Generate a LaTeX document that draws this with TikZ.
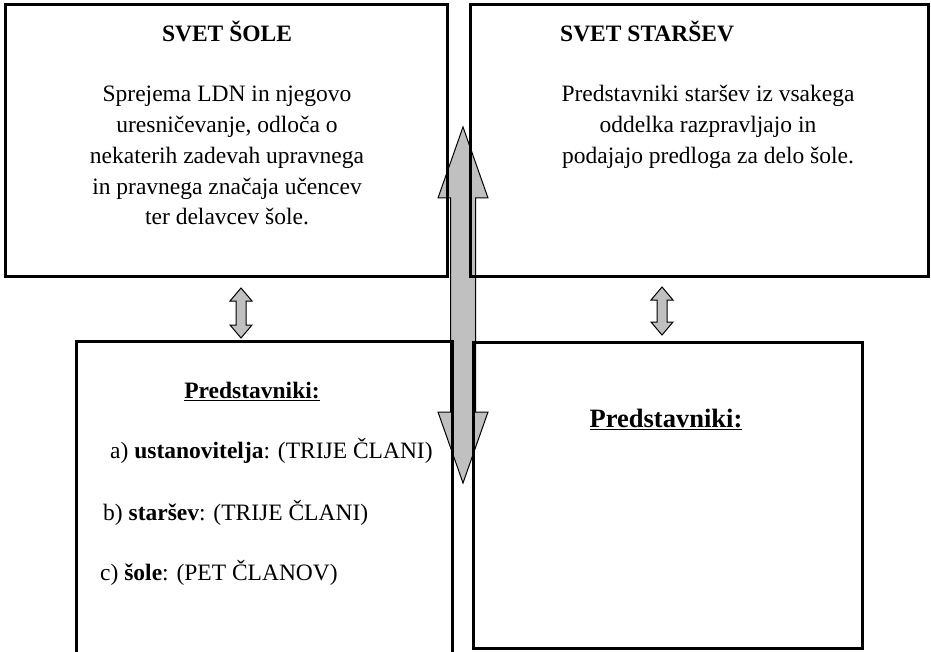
\documentclass[tikz,border=0pt]{standalone}
\usepackage{fontspec}
\setmainfont{Liberation Serif}
\usepackage{tikz}

\definecolor{siva}{RGB}{192,192,192}
% dvosmerna puscica: x, vrh, dno, pol glave, pol debla, dolzina glave
\newcommand{\dvosmerna}[6]{%
  \draw[puscica] (#1,#2) -- (#1+#4,#2+#6) -- (#1+#5,#2+#6) -- (#1+#5,#3-#6)
    -- (#1+#4,#3-#6) -- (#1,#3) -- (#1-#4,#3-#6) -- (#1-#5,#3-#6)
    -- (#1-#5,#2+#6) -- (#1-#4,#2+#6) -- cycle;}

\begin{document}
\begin{tikzpicture}[x=1pt, y=-1pt,
    okvir/.style = {draw, line width=3pt},
    puscica/.style = {draw, fill=siva, line width=1pt},
    naslov/.style = {font=\fontsize{23.5}{30.75}\selectfont\bfseries, inner sep=0pt, anchor=base},
    besedilo/.style = {font=\fontsize{23.5}{30.75}\selectfont, align=center, inner sep=0pt, anchor=base},
    alineja/.style = {font=\fontsize{23.5}{30.75}\selectfont, inner sep=0pt, anchor=base west}]

    \useasboundingbox (0,0) rectangle (931,652);
    \clip (0,0) rectangle (931,652);

    \dvosmerna{463}{127}{483}{25}{12.5}{71}
    \dvosmerna{241}{288}{338}{11}{5}{13}
    \dvosmerna{662}{287}{335}{11}{5}{13}

    \draw[okvir] (5,5) rectangle (447,276);
    \draw[okvir] (470,5) rectangle (928,276);
    \draw[okvir] (76,341) rectangle (452,670);
    \draw[okvir] (473,342) rectangle (862,648);

    \node[naslov] (sola) at (227,42) {SVET ŠOLE};
    \node[besedilo] (solaopis) at (227,225) {Sprejema LDN in njegovo\\uresničevanje, odloča o\\nekaterih zadevah upravnega\\in pravnega značaja učencev\\ter delavcev šole.};

    \node[naslov, anchor=base west] (starsi) at (560,42) {SVET STARŠEV};
    \node[besedilo] (starsiopis) at (708,163.5) {Predstavniki staršev iz vsakega\\oddelka razpravljajo in\\podajajo predloga za delo šole.};

    \node[naslov] (predlevo) at (252,398) {\underline{Predstavniki:}};
    \node[alineja] (a) at (110,458) {a) \textbf{ustanovitelja}: (TRIJE ČLANI)};
    \node[alineja] (b) at (103,520) {b) \textbf{staršev}: (TRIJE ČLANI)};
    \node[alineja] (c) at (100,580) {c) \textbf{šole}: (PET ČLANOV)};

    \node[naslov, font=\fontsize{26.5}{32}\selectfont\bfseries] (predesno) at (666,427) {\underline{Predstavniki:}};
    %\node[naslov] (x) at (0,0) {};
\end{tikzpicture}
\end{document}
